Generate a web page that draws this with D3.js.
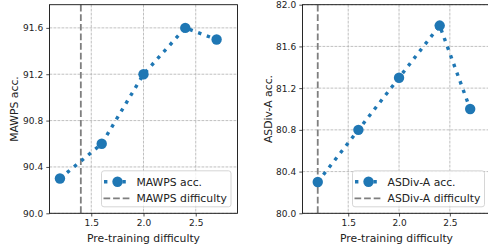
<!DOCTYPE html>
<html><head><meta charset="utf-8">
<script src="https://cdn.jsdelivr.net/npm/d3@7"></script>
<style>html,body{margin:0;padding:0;background:#fff}svg{display:block}text{font-family:"DejaVu Sans",sans-serif}</style>
</head><body><svg id="c" width="488" height="249"></svg>
<script>
const difficulty = [1.2, 1.6, 2.0, 2.4, 2.7];
const mawpsAcc = [90.3, 90.6, 91.2, 91.6, 91.5];
const asdivAcc = [80.3, 80.8, 81.3, 81.8, 81.0];
const mawpsDifficulty = 1.4;
const asdivDifficulty = 1.2;
const xTicks = [1.5, 2.0, 2.5];
const mawpsYTicks = [90.0, 90.4, 90.8, 91.2, 91.6];
const asdivYTicks = [80.0, 80.4, 80.8, 81.2, 81.6, 82.0];

const svg = d3.select("#c");
const blue = "#1f77b4";

const panels = [
  {left: 49.5, right: 237.5, xDom: [1.1, 2.9], yDom: [90.0, 91.8], yTicks: mawpsYTicks, acc: mawpsAcc,
   diff: mawpsDifficulty, ylab: "MAWPS acc.", ylabX: 14, leg: ["MAWPS acc.", "MAWPS difficulty"], legX: 101.5, legW: 129.5},
  {left: 302.5, right: 490.5, xDom: [1.05, 2.9], yDom: [80.0, 82.0], yTicks: asdivYTicks, acc: asdivAcc,
   diff: asdivDifficulty, ylab: "ASDiv-A acc.", ylabX: 268, leg: ["ASDiv-A acc.", "ASDiv-A difficulty"], legX: 352.5, legW: 132}
];
const plotTop = 4.7, plotBottom = 213.3;

panels.forEach(p => {
  const x = d3.scaleLinear().domain(p.xDom).range([p.left, p.right]);
  const y = d3.scaleLinear().domain(p.yDom).range([plotBottom, plotTop]);
  const g = svg.append("g");
  // grid
  g.selectAll(".gx").data(xTicks).join("line")
    .attr("x1", d => x(d)).attr("x2", d => x(d)).attr("y1", plotTop).attr("y2", plotBottom)
    .attr("stroke", "#b0b0b0").attr("stroke-width", 0.8).attr("stroke-dasharray", "2.8,1.2");
  g.selectAll(".gy").data(p.yTicks).join("line")
    .attr("x1", p.left).attr("x2", p.right).attr("y1", d => y(d)).attr("y2", d => y(d))
    .attr("stroke", "#b0b0b0").attr("stroke-width", 0.8).attr("stroke-dasharray", "2.8,1.2");
  // axes
  const xa = g.append("g").attr("transform", `translate(0,${plotBottom})`)
    .call(d3.axisBottom(x).tickValues(xTicks).tickFormat(d3.format(".1f")).tickSize(3.2).tickPadding(3.2));
  const ya = g.append("g").attr("transform", `translate(${p.left},0)`)
    .call(d3.axisLeft(y).tickValues(p.yTicks).tickFormat(d3.format(".1f")).tickSize(3.2).tickPadding(3.2));
  [xa, ya].forEach(a => {
    a.select(".domain").remove();
    a.selectAll("text").attr("font-size", 9).attr("fill", "#222").style("font-family", '"DejaVu Sans",sans-serif');
    a.selectAll("line").attr("stroke", "#222").attr("stroke-width", 0.8);
  });
  // vertical difficulty line
  g.append("line").attr("x1", x(p.diff)).attr("x2", x(p.diff)).attr("y1", plotTop).attr("y2", plotBottom)
    .attr("stroke", "#7f7f7f").attr("stroke-width", 1.8).attr("stroke-dasharray", "6.7,2.9");
  // data line
  const pts = difficulty.map((d, i) => [d, p.acc[i]]);
  g.append("path").datum(pts)
    .attr("d", d3.line().x(d => x(d[0])).y(d => y(d[1])))
    .attr("fill", "none").attr("stroke", blue).attr("stroke-width", 3.4).attr("stroke-dasharray", "3.4,5.8");
  g.selectAll(".pt").data(pts).join("circle")
    .attr("cx", d => x(d[0])).attr("cy", d => y(d[1])).attr("r", 5.2).attr("fill", blue);
  // spines
  g.append("rect").attr("x", p.left).attr("y", plotTop).attr("width", p.right - p.left).attr("height", plotBottom - plotTop)
    .attr("fill", "none").attr("stroke", "#111").attr("stroke-width", 0.9);
  // labels
  svg.append("text").attr("x", (p.left + p.right) / 2).attr("y", 241.5).attr("text-anchor", "middle")
    .attr("font-size", 10.8).attr("fill", "#222").text("Pre-training difficulty");
  svg.append("text").attr("transform", `translate(${p.ylabX},${(plotTop + plotBottom) / 2}) rotate(-90)`)
    .attr("text-anchor", "middle").attr("dy", "0.35em").attr("font-size", 10.8).attr("fill", "#222").text(p.ylab);
  // legend
  const lg = svg.append("g").attr("transform", `translate(${p.legX},170.8)`);
  lg.append("rect").attr("width", p.legW).attr("height", 36).attr("rx", 2.5)
    .attr("fill", "#fff").attr("fill-opacity", 0.8).attr("stroke", "#cccccc").attr("stroke-width", 0.8);
  lg.append("line").attr("x1", 2).attr("x2", 30).attr("y1", 11).attr("y2", 11)
    .attr("stroke", blue).attr("stroke-width", 3.4).attr("stroke-dasharray", "3.4,5.8").attr("stroke-dashoffset", -0.5);
  lg.append("circle").attr("cx", 16).attr("cy", 11).attr("r", 5.2).attr("fill", blue);
  lg.append("line").attr("x1", 2).attr("x2", 30).attr("y1", 27.5).attr("y2", 27.5)
    .attr("stroke", "#7f7f7f").attr("stroke-width", 1.8).attr("stroke-dasharray", "6.7,2.9");
  lg.append("text").attr("x", 35).attr("y", 11).attr("dy", "0.36em").attr("font-size", 10.8).attr("fill", "#222").text(p.leg[0]);
  lg.append("text").attr("x", 35).attr("y", 27.5).attr("dy", "0.36em").attr("font-size", 10.8).attr("fill", "#222").text(p.leg[1]);
});
</script></body></html>
